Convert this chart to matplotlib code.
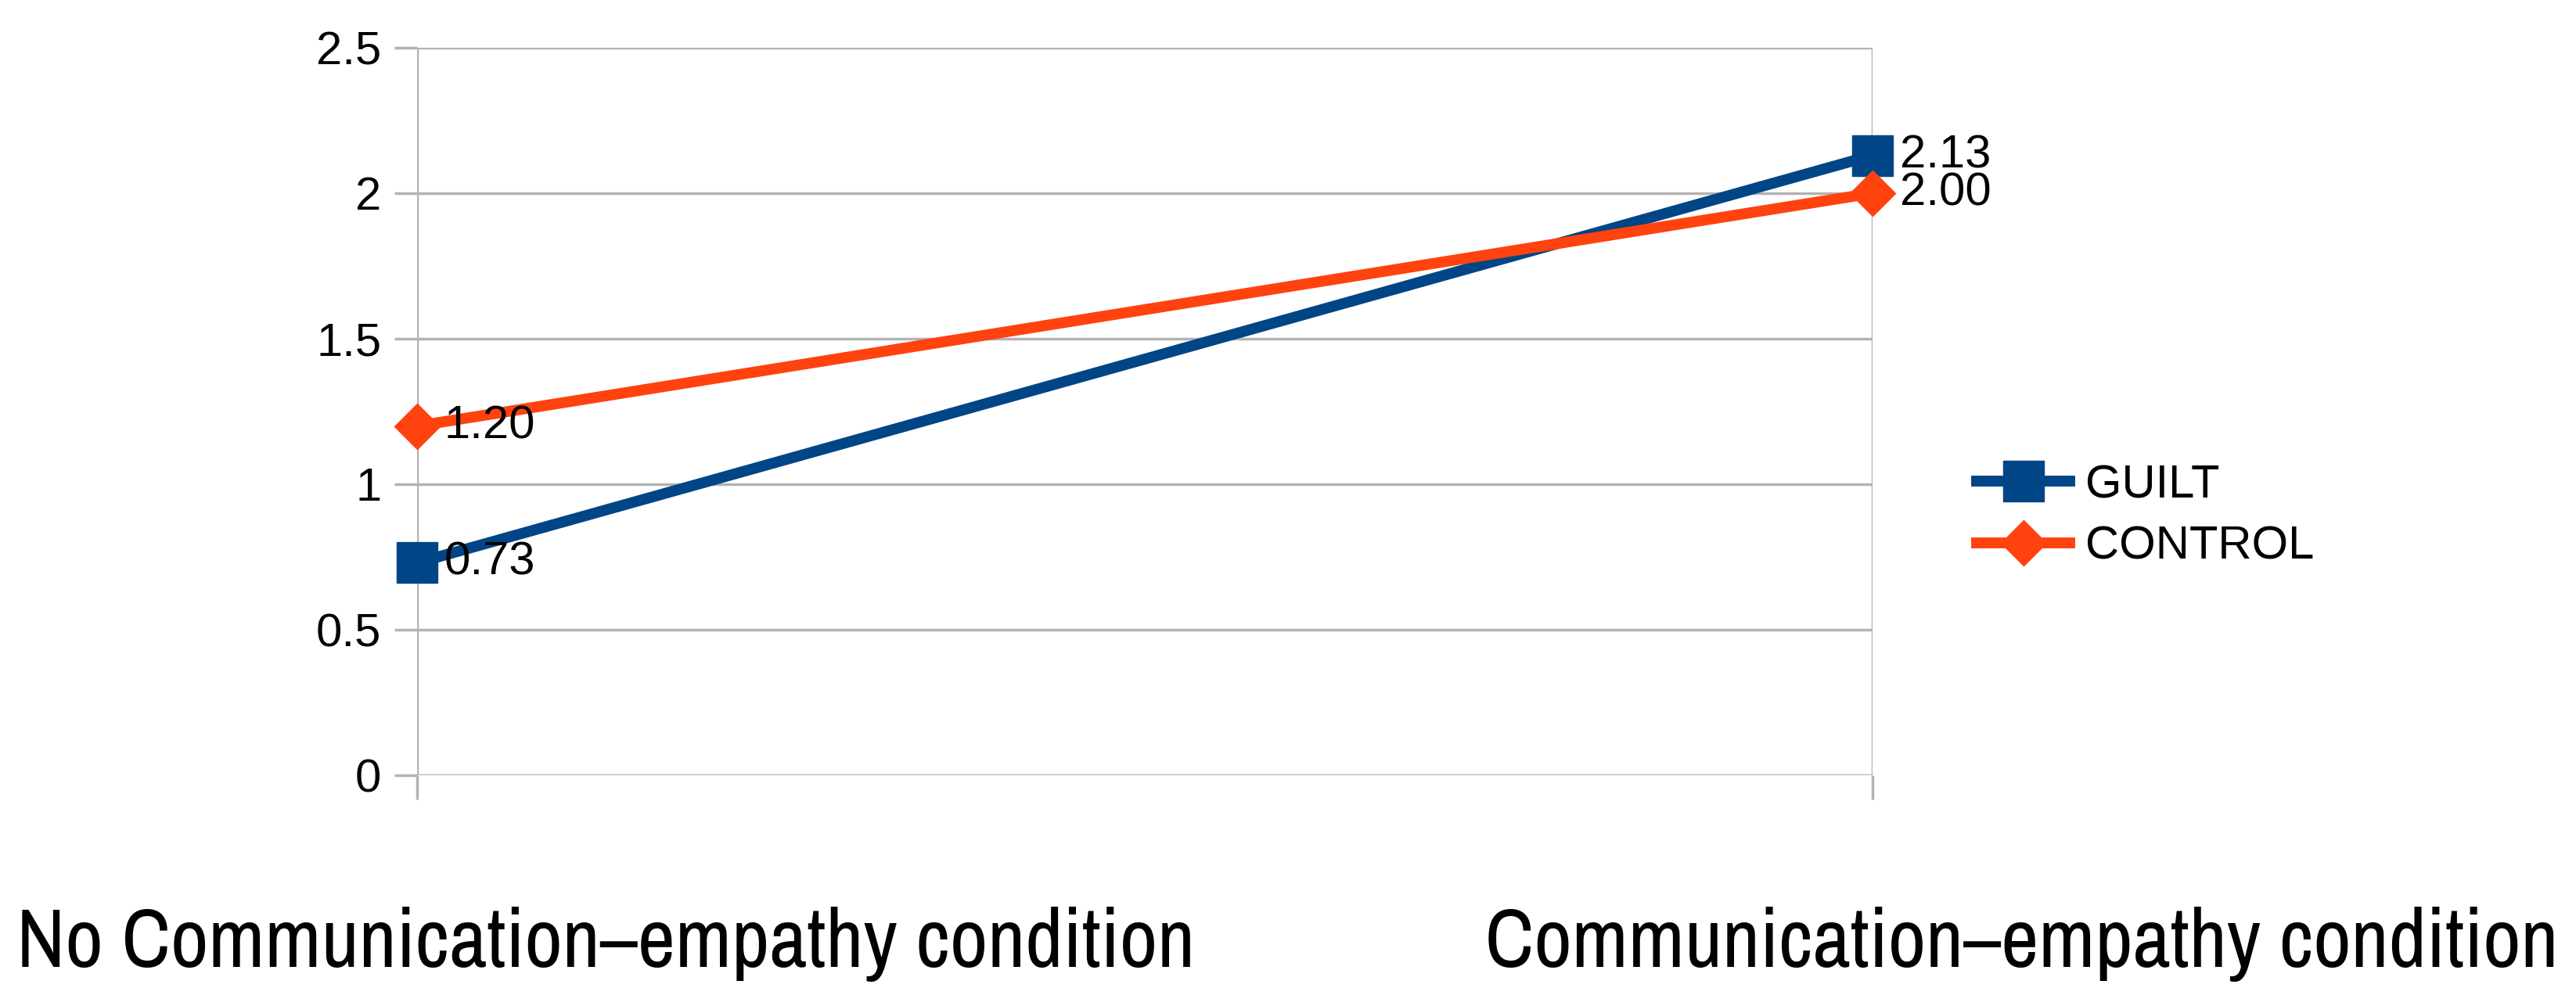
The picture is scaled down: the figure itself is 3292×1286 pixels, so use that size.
import matplotlib
matplotlib.use("Agg")
import matplotlib.pyplot as plt
from matplotlib import font_manager

# data
categories = ["No Communication\u2013empathy condition", "Communication\u2013empathy condition"]
series_names = ["GUILT", "CONTROL"]
guilt = [0.73, 2.13]
control = [1.20, 2.00]
y_ticks = [0, 0.5, 1, 1.5, 2, 2.5]

blue = "#004586"
orange = "#ff420e"
grid_gray = "#b3b3b3"

names = sorted({f.name for f in font_manager.fontManager.ttflist})
main_font = "Liberation Sans" if "Liberation Sans" in names else "DejaVu Sans"
narrow = [n for n in names if "Narrow" in n or "Condensed" in n]
if narrow:
    label_font = narrow[0]
elif "Lato" in names:
    label_font = "Lato"
else:
    label_font = main_font

plt.rcParams["font.family"] = [main_font, "DejaVu Sans"]

fig = plt.figure(figsize=(32.92, 12.86), dpi=100)
ax = fig.add_axes([533 / 3292, 295 / 1286, (2393 - 533) / 3292, (1225 - 295) / 1286])

x = list(range(len(categories)))
ax.plot(x, guilt, color=blue, lw=10, marker="s", ms=38, mec=blue, mfc=blue,
        label=series_names[0], clip_on=False, zorder=3)
ax.plot(x, control, color=orange, lw=10, marker="D", ms=30, mec=orange, mfc=orange,
        label=series_names[1], clip_on=False, zorder=4)

for vals in (guilt, control):
    for xi, v in zip(x, vals):
        ax.annotate("%.2f" % v, (xi, v), xytext=(25, 0), textcoords="offset points",
                    ha="left", va="center", fontsize=43, color="black", zorder=5)

ax.set_xlim(0, 1)
ax.set_ylim(0, 2.5)
ax.set_yticks(y_ticks)
ax.set_yticklabels(["%g" % t for t in y_ticks])
ax.set_xticks(x)
ax.set_xticklabels(["", ""])
ax.grid(True, color=grid_gray, lw=2.5, zorder=0)
ax.tick_params(axis="y", length=21, width=2.5, color=grid_gray, pad=12, labelsize=43)
ax.tick_params(axis="x", length=22, width=2.5, color=grid_gray)
for s in ax.spines.values():
    s.set_visible(False)
ax.set_axisbelow(True)

leg = fig.legend(loc="center left", bbox_to_anchor=(2526 / 3292, 626 / 1286),
                 frameon=False, fontsize=43, handlelength=2.0, handletextpad=0.33,
                 labelspacing=0.4, borderpad=0, borderaxespad=0)

# category labels sit at the figure edges, sized to the widths in the picture
t1 = fig.text(21 / 3292, (1286 - 1207) / 1286, categories[0], ha="left", va="center",
              fontsize=80, family=[label_font, "DejaVu Sans"])
t2 = fig.text(3269 / 3292, (1286 - 1207) / 1286, categories[1], ha="right", va="center",
              fontsize=80, family=[label_font, "DejaVu Sans"])
r = fig.canvas.get_renderer()
w = t1.get_window_extent(renderer=r).width
fs = min(80, 80 * 1505 / w)
t1.set_fontsize(fs)
t2.set_fontsize(fs)

fig.savefig("out.png", dpi=100, facecolor="white")
